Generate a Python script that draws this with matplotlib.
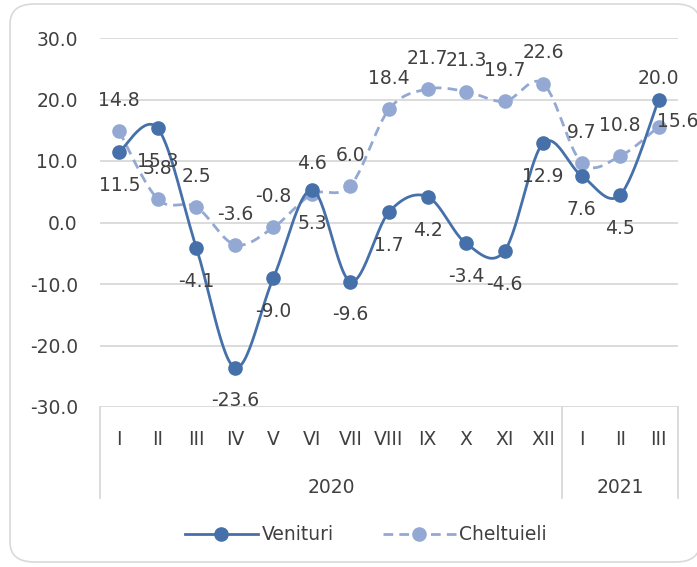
import numpy as np
import matplotlib
matplotlib.use("Agg")
import matplotlib.pyplot as plt
from matplotlib.patches import FancyBboxPatch
from matplotlib.lines import Line2D

plt.rcParams['font.family'] = ['DejaVu Sans']

months = ['I', 'II', 'III', 'IV', 'V', 'VI', 'VII', 'VIII', 'IX', 'X', 'XI', 'XII',
          'I', 'II', 'III']
years = ['2020', '2021']
year_counts = [12, 3]

venituri = [11.5, 15.3, -4.1, -23.6, -9.0, 5.3, -9.6, 1.7, 4.2, -3.4, -4.6, 12.9,
            7.6, 4.5, 20.0]
cheltuieli = [14.8, 3.8, 2.5, -3.6, -0.8, 4.6, 6.0, 18.4, 21.7, 21.3, 19.7, 22.6,
              9.7, 10.8, 15.6]

c_ven = '#4570a9'
c_che = '#93a9d3'
c_txt = '#404040'
c_grid = '#d9d9d9'


def smooth(x, y, n=30):
    # Bezier smoothing between points, like Excel's "smoothed line"
    x = np.asarray(x, float)
    y = np.asarray(y, float)
    px = np.concatenate([[x[0]], x, [x[-1]]])
    py = np.concatenate([[y[0]], y, [y[-1]]])
    xs, ys = [], []
    t = np.linspace(0, 1, n)
    for i in range(len(x) - 1):
        p0 = np.array([px[i + 1], py[i + 1]])
        p3 = np.array([px[i + 2], py[i + 2]])
        p1 = p0 + (np.array([px[i + 2], py[i + 2]]) - np.array([px[i], py[i]])) / 6
        p2 = p3 - (np.array([px[i + 3], py[i + 3]]) - np.array([px[i + 1], py[i + 1]])) / 6
        b = ((1 - t) ** 3)[:, None] * p0 + (3 * (1 - t) ** 2 * t)[:, None] * p1 \
            + (3 * (1 - t) * t ** 2)[:, None] * p2 + (t ** 3)[:, None] * p3
        xs.append(b[:, 0])
        ys.append(b[:, 1])
    return np.concatenate(xs), np.concatenate(ys)


fig = plt.figure(figsize=(6.97, 5.67), dpi=100)

# rounded chart frame
frame = FancyBboxPatch((10 / 697, 5 / 567), 690 / 697, 558 / 567,
                       boxstyle="round,pad=0,rounding_size=0.035",
                       transform=fig.transFigure, facecolor='white',
                       edgecolor='#d9d9d9', linewidth=1.2, zorder=-10)
fig.patches.append(frame)

ax = fig.add_axes([100 / 697, 1 - 407 / 567, 578 / 697, 369 / 567])
ax.set_facecolor('none')
ax.set_zorder(1)

x = np.arange(len(months))
sx, sy = smooth(x, cheltuieli)
ax.plot(sx, sy, color=c_che, lw=2.0, ls=(0, (3.5, 2.2)), zorder=3)
ax.plot(x, cheltuieli, 'o', color=c_che, ms=9.5, zorder=4)
sx, sy = smooth(x, venituri)
ax.plot(sx, sy, color=c_ven, lw=2.0, zorder=5)
ax.plot(x, venituri, 'o', color=c_ven, ms=9.5, zorder=6)

ax.set_xlim(-0.5, len(months) - 0.5)
ax.set_ylim(-30, 30)
ax.set_yticks(np.arange(-30, 31, 10))
ax.set_yticklabels([f'{v:.1f}' for v in np.arange(-30, 31, 10)])
ax.tick_params(axis='y', length=0, pad=16, labelsize=13.5, labelcolor=c_txt)
ax.set_xticks([])
for v in np.arange(-20, 31, 10):
    ax.axhline(v, color=c_grid, lw=1.3, zorder=1)
for s in ax.spines.values():
    s.set_visible(False)
ax.axhline(-30, color=c_grid, lw=1.3, zorder=1)

# data labels
for i, v in enumerate(cheltuieli):
    if i == len(cheltuieli) - 1:
        ax.annotate(f'{v:.1f}', (i, v), xytext=(-1, 4), textcoords='offset points',
                    ha='left', va='center', fontsize=13.5, color=c_txt, zorder=7,
                    annotation_clip=False)
    else:
        ax.annotate(f'{v:.1f}', (i, v), xytext=(0, 22), textcoords='offset points',
                    ha='center', va='center', fontsize=13.5, color=c_txt, zorder=7)
for i, v in enumerate(venituri):
    dy = 15 if i == len(venituri) - 1 else -24
    ax.annotate(f'{v:.1f}', (i, v), xytext=(0, dy), textcoords='offset points',
                ha='center', va='center', fontsize=13.5, color=c_txt, zorder=7)

# two-level category axis
tr = ax.get_xaxis_transform()
for i, m in enumerate(months):
    ax.text(i, -0.089, m, transform=tr, ha='center', va='center',
            fontsize=13.5, color=c_txt, clip_on=False)
edges = np.concatenate([[0], np.cumsum(year_counts)]) - 0.5
for e in edges:
    ax.plot([e, e], [0, -0.247], transform=tr, color=c_grid, lw=1.3, clip_on=False)
for k, yr in enumerate(years):
    ax.text((edges[k] + edges[k + 1]) / 2, -0.217, yr, transform=tr, ha='center',
            va='center', fontsize=13.5, color=c_txt, clip_on=False)

handles = [
    Line2D([], [], color=c_ven, lw=2.0, marker='o', ms=9.5),
    Line2D([], [], color=c_che, lw=2.0, ls=(0, (3.5, 2.2)), marker='o', ms=9.5),
]
fig.legend(handles, ['Venituri', 'Cheltuieli'], loc='center',
           bbox_to_anchor=(0.525, 1 - 535 / 567), ncol=2, frameon=False,
           fontsize=13.5, labelcolor=c_txt, handlelength=3.9, handletextpad=0.2,
           columnspacing=2.6)

fig.savefig('out.png', dpi=100)
